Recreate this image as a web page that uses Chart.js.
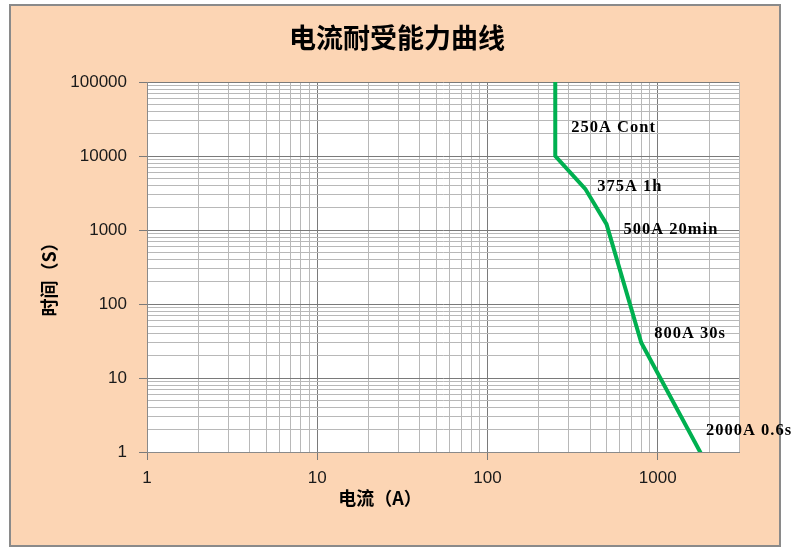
<!DOCTYPE html>
<html>
<head>
<meta charset="utf-8">
<title>电流耐受能力曲线</title>
<script src="https://cdn.jsdelivr.net/npm/chart.js@4/dist/chart.umd.min.js"></script>
<style>
  body { margin: 0; background: #fff; }
  canvas { display: block; }
</style>
</head>
<body>
<canvas id="myChart" width="800" height="555"></canvas>
<script>
// data
var current = [250, 250, 375, 500, 800, 2000];      // A
var time = [100000, 10000, 3600, 1200, 30, 0.6];    // s
var pointLabels = ["", "250A Cont", "375A 1h", "500A 20min", "800A 30s", "2000A 0.6s"];
var xTickMax = 3000;
var yTickMin = 1, yTickMax = 100000;

var titleText = "电流耐受能力曲线";
var xTitle = "电流（A）";
var yTitle = "时间（S）";

// pixel offsets of each label from its point
var labelOffsets = [[0, 0], [16, -28], [12, -2], [17, 6], [13, -9], [-3, -38]];

function logTicks(min, max) {
  var out = [];
  for (var e = Math.floor(Math.log10(min)); e <= Math.ceil(Math.log10(max)); e++) {
    for (var k = 1; k <= 9; k++) {
      var v = k * Math.pow(10, e);
      if (v >= min - 1e-9 && v <= max + 1e-9) out.push({value: v});
    }
  }
  return out;
}
function isMajor(v) {
  var l = Math.log10(v);
  return Math.abs(l - Math.round(l)) < 1e-9;
}

var decor = {
  id: "decor",
  beforeDraw: function(chart) {
    var c = chart.ctx, a = chart.chartArea;
    c.save();
    c.fillStyle = "#ffffff";
    c.fillRect(0, 0, chart.width, chart.height);
    c.fillStyle = "#fcd5b4";
    c.fillRect(10, 5, 770, 541);
    c.strokeStyle = "#8a8a8a";
    c.lineWidth = 2;
    c.strokeRect(10, 5, 770, 541);
    c.fillStyle = "#ffffff";
    c.fillRect(a.left, a.top, a.right - a.left, a.bottom - a.top);
    c.restore();
  },
  afterDraw: function(chart) {
    var c = chart.ctx;
    var xs = chart.scales.x, ys = chart.scales.y;
    c.save();
    c.fillStyle = "#000";
    c.textAlign = "center";
    c.textBaseline = "middle";
    c.font = "bold 27px 'Noto Sans CJK SC'";
    c.fillText(titleText, 397, 38);
    c.font = "bold 18px 'Noto Sans CJK SC'";
    c.fillText(xTitle, 380, 498);
    c.save();
    c.translate(49, 275);
    c.rotate(-Math.PI / 2);
    c.fillText(yTitle, 0, 0);
    c.restore();

    // point labels
    c.font = "bold 16.5px 'Liberation Serif'";
    c.letterSpacing = "1px";
    c.textAlign = "left";
    c.fillStyle = "#000";
    for (var i = 0; i < pointLabels.length; i++) {
      if (!pointLabels[i]) continue;
      var px = xs.getPixelForValue(current[i]) + labelOffsets[i][0];
      var py = ys.getPixelForValue(time[i]) + labelOffsets[i][1];
      c.fillText(pointLabels[i], px, py);
    }
    c.restore();
  }
};

var gridColor = function(ctx) {
  return ctx.tick && isMajor(ctx.tick.value) ? "#7a7a7a" : "#b8b8b8";
};
var tickColor = function(ctx) {
  return ctx.tick && isMajor(ctx.tick.value) ? "#7a7a7a" : "rgba(0,0,0,0)";
};
var tickLabel = function(v) {
  return isMajor(v) ? String(Math.round(v)) : "";
};

var ctx = document.getElementById("myChart");
var myChart = new Chart(ctx, {
  type: "line",
  data: {
    datasets: [{
      data: current.map(function(x, i) { return {x: x, y: time[i]}; }),
      borderColor: "#00b050",
      borderWidth: 4,
      pointRadius: 0,
      lineTension: 0,
      fill: false
    }]
  },
  options: {
    responsive: false,
    animation: false,
    layout: { padding: { left: 0, top: 82, right: 61, bottom: 0 } },
    plugins: { legend: { display: false }, tooltip: { enabled: false } },
    scales: {
      x: {
        type: "logarithmic",
        min: 1,
        max: xTickMax,
        afterBuildTicks: function(s) { s.ticks = logTicks(1, xTickMax); },
        afterFit: function(s) { s.height = 103; },
        border: { color: "#8a8a8a", width: 1 },
        grid: { color: gridColor, tickColor: tickColor, tickLength: 8 },
        ticks: {
          callback: tickLabel, autoSkip: false, maxRotation: 0, padding: 8,
          color: "#1a1a1a", font: { family: "'Liberation Sans'", size: 17 }
        }
      },
      y: {
        type: "logarithmic",
        min: yTickMin,
        max: yTickMax,
        afterBuildTicks: function(s) { s.ticks = logTicks(yTickMin, yTickMax); },
        afterFit: function(s) { s.width = 147; },
        border: { color: "#8a8a8a", width: 1 },
        grid: { color: gridColor, tickColor: tickColor, tickLength: 8 },
        ticks: {
          callback: tickLabel, autoSkip: false, padding: 12,
          color: "#1a1a1a", font: { family: "'Liberation Sans'", size: 17 }
        }
      }
    }
  },
  plugins: [decor]
});
</script>
</body>
</html>
